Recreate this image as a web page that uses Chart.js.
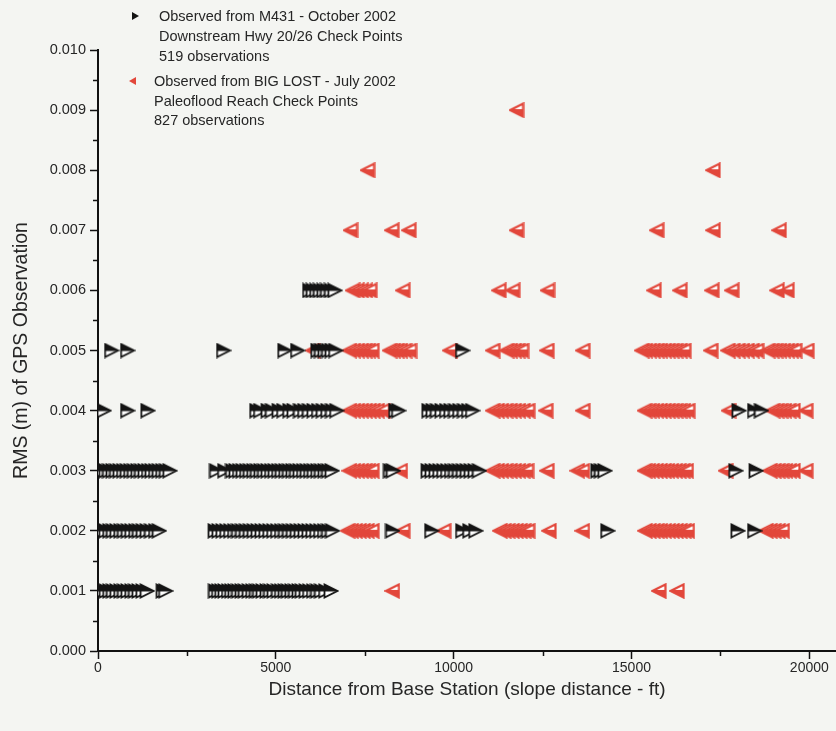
<!DOCTYPE html>
<html>
<head>
<meta charset="utf-8">
<script src="https://cdn.jsdelivr.net/npm/chart.js@4.4.1/dist/chart.umd.min.js"></script>
<style>
html,body{margin:0;padding:0;background:#f4f5f2;}
#wrap{position:relative;width:836px;height:731px;}
</style>
</head>
<body>
<div id="wrap"><canvas id="c" width="836" height="731"></canvas></div>
<script>
// ---------------- DATA ----------------
const xTitle = 'Distance from Base Station (slope distance - ft)';
const yTitle = 'RMS (m) of GPS Observation';
const legendM431 = ['Observed from M431 - October 2002', 'Downstream Hwy 20/26 Check Points', '519 observations'];
const legendBigLost = ['Observed from BIG LOST - July 2002', 'Paleoflood Reach Check Points', '827 observations'];
const rmsLevels = [0.001, 0.002, 0.003, 0.004, 0.005, 0.006, 0.007, 0.008, 0.009];
const xTickValues = [0, 2500, 5000, 7500, 10000, 12500, 15000, 17500, 20000];
const xTickLabels = ['0', '', '5000', '', '10000', '', '15000', '', '20000'];

// Observed from M431 (black) : distances (ft) per RMS level
const m431_rms001 = [30, 130, 230, 330, 430, 530, 640, 740, 840, 950, 1050, 1150, 1260, 1380, 1830, 1900,
  3300, 3390, 3480, 3570, 3670, 3760, 3850, 3950, 4050, 4140, 4250, 4350, 4450, 4540, 4640, 4750, 4850, 4950,
  5070, 5160, 5260, 5350, 5450, 5550, 5650, 5740, 5850, 5950, 6060, 6170, 6280, 6400, 6550];
const m431_rms002 = [20, 120, 220, 330, 430, 530, 640, 740, 850, 950, 1060, 1160, 1270, 1380, 1500, 1620, 1720,
  3290, 3400, 3510, 3620, 3730, 3840, 3950, 4060, 4170, 4280, 4390, 4500, 4610, 4720, 4830, 4940, 5050, 5160,
  5270, 5380, 5490, 5600, 5710, 5820, 5930, 6040, 6150, 6260, 6370, 6480, 6590,
  8280, 9380, 10250, 10450, 10620, 14330, 17990, 18460];
const m431_rms003 = [20, 120, 220, 320, 420, 520, 620, 720, 820, 920, 1020, 1120, 1220, 1320, 1420, 1520, 1620, 1720, 1820, 1920, 2020,
  3330, 3560, 3780, 3880, 3980, 4080, 4180, 4280, 4380, 4480, 4580, 4680, 4780, 4880, 4980, 5080, 5180, 5280,
  5380, 5480, 5580, 5680, 5780, 5880, 5980, 6080, 6180, 6280, 6380, 6480, 6580,
  8220, 8300, 9280, 9390, 9500, 9610, 9720, 9830, 9940, 10050, 10160, 10270, 10380, 10490, 10600, 10720,
  14050, 14150, 14250, 17930, 18500];
const m431_rms004 = [170, 830, 1400, 4460, 4570, 4780, 4900, 5090, 5220, 5390, 5510, 5690, 5810, 5940, 6070,
  6200, 6330, 6460, 6590, 6710, 8370, 8450, 9300, 9420, 9540, 9670, 9800, 9920, 10050, 10170, 10300, 10420,
  10530, 18020, 18460, 18650];
const m431_rms005 = [380, 830, 3530, 5250, 5610, 6180, 6280, 6380, 6480, 6580, 6680, 10250];
const m431_rms006 = [5950, 6050, 6150, 6250, 6350, 6450, 6560, 6660];

// Observed from BIG LOST (red) : distances (ft) per RMS level
const bigLost_rms001 = [8280, 15770, 16280];
const bigLost_rms002 = [7020, 7120, 7230, 7340, 7450, 7560, 7700, 8570, 9720, 11300, 11410, 11520, 11640, 11750,
  11860, 11970, 12080, 12680, 13620, 15380, 15490, 15600, 15710, 15810, 15920, 16030, 16140, 16250, 16360,
  16470, 16570, 18780, 18890, 19000, 19120, 19240];
const bigLost_rms003 = [7070, 7180, 7290, 7400, 7500, 7600, 7700, 8500, 11100, 11220, 11340, 11460, 11580, 11700,
  11820, 11940, 12050, 12620, 13480, 13620, 15370, 15470, 15580, 15690, 15800, 15910, 16010, 16120, 16230,
  16330, 16440, 16540, 17650, 18890, 19000, 19110, 19220, 19330, 19440, 19540, 19900];
const bigLost_rms004 = [7070, 7180, 7290, 7400, 7510, 7620, 7730, 7850, 8000, 11100, 11220, 11340, 11460, 11580,
  11700, 11820, 11950, 12080, 12590, 13630, 15370, 15480, 15590, 15700, 15800, 15910, 16020, 16130, 16240,
  16350, 16460, 16580, 17730, 18970, 19080, 19190, 19300, 19420, 19540, 19900];
const bigLost_rms005 = [6040, 7070, 7180, 7290, 7400, 7500, 7600, 7700, 8200, 8300, 8400, 8500, 8620, 8760, 9890,
  11100, 11490, 11590, 11700, 11800, 11910, 12620, 13630, 15290, 15390, 15500, 15600, 15710, 15810, 15920,
  16020, 16130, 16240, 16360, 16470, 17230, 17710, 17850, 17990, 18120, 18250, 18390, 18520, 18830, 18940,
  19050, 19160, 19270, 19380, 19490, 19590, 19930];
const bigLost_rms006 = [7160, 7280, 7400, 7520, 7640, 8570, 11270, 11660, 12640, 15630, 16360, 17260, 17820, 19090, 19370];
const bigLost_rms007 = [7100, 8260, 8740, 11770, 15710, 17290, 19150];
const bigLost_rms008 = [7580, 17290];
const bigLost_rms009 = [11770];

const m431Rows = [m431_rms001, m431_rms002, m431_rms003, m431_rms004, m431_rms005, m431_rms006];
const bigLostRows = [bigLost_rms001, bigLost_rms002, bigLost_rms003, bigLost_rms004, bigLost_rms005,
  bigLost_rms006, bigLost_rms007, bigLost_rms008, bigLost_rms009];

// ---------------- BUILD ----------------
function toPoints(rows) {
  const pts = [];
  rows.forEach((row, i) => row.forEach(d => pts.push({x: d, y: rmsLevels[i]})));
  return pts;
}

const BLACK = '#141414';
const RED = '#e2473b';

function makeMarker(dir, color) {
  const s = 16;
  const cv = document.createElement('canvas');
  cv.width = s; cv.height = s;
  const c = cv.getContext('2d');
  const m = 1.5;
  let pts;
  if (dir === 'right') pts = [[m, m], [s - m, s / 2], [m, s - m]];
  else pts = [[s - m, m], [m, s / 2], [s - m, s - m]];
  const path = () => { c.beginPath(); c.moveTo(pts[0][0], pts[0][1]); c.lineTo(pts[1][0], pts[1][1]); c.lineTo(pts[2][0], pts[2][1]); c.closePath(); };
  path(); c.fillStyle = '#ffffff'; c.fill();
  c.save(); path(); c.clip();
  c.fillStyle = color;
  if (dir === 'right') c.fillRect(0, 0, s, s / 2 + 0.5);
  else c.fillRect(0, s / 2 - 1, s, s / 2 + 1);
  c.restore();
  path(); c.strokeStyle = color; c.lineWidth = dir === 'right' ? 1.8 : 2.2; c.lineJoin = 'miter'; c.stroke();
  return cv;
}

const blackMarker = makeMarker('right', BLACK);
const redMarker = makeMarker('left', RED);

const FONT = '"Liberation Sans", Arial, Helvetica, sans-serif';
const TXT = '#262626';

const minorTicks = {
  id: 'minorTicks',
  afterDraw(chart) {
    const ctx = chart.ctx;
    const xs = chart.scales.x, ys = chart.scales.y;
    ctx.save();
    ctx.strokeStyle = '#111';
    ctx.lineWidth = 1.5;
    xs.ticks.forEach(t => {
      if (Math.round(t.value) % 5000 !== 0) {
        const px = Math.round(xs.getPixelForValue(t.value)) + 0.5;
        ctx.beginPath(); ctx.moveTo(px, xs.top); ctx.lineTo(px, xs.top + 5); ctx.stroke();
      }
    });
    ys.ticks.forEach(t => {
      if (Math.round(t.value * 10000) % 10 !== 0) {
        const py = Math.round(ys.getPixelForValue(t.value)) + 0.5;
        ctx.beginPath(); ctx.moveTo(ys.right, py); ctx.lineTo(ys.right - 5, py); ctx.stroke();
      }
    });
    ctx.restore();
  }
};

const legendPlugin = {
  id: 'textLegend',
  afterDraw(chart) {
    const ctx = chart.ctx;
    ctx.save();
    ctx.font = '14.5px ' + FONT;
    ctx.fillStyle = TXT;
    ctx.textBaseline = 'middle';
    ctx.textAlign = 'left';
    const y1 = [17, 37, 57];
    legendM431.forEach((t, i) => ctx.fillText(t, 159, y1[i]));
    const y2 = [82, 102, 121];
    legendBigLost.forEach((t, i) => ctx.fillText(t, 154, y2[i]));
    ctx.fillStyle = BLACK;
    ctx.beginPath(); ctx.moveTo(132, 12); ctx.lineTo(139, 16); ctx.lineTo(132, 20); ctx.closePath(); ctx.fill();
    ctx.fillStyle = RED;
    ctx.beginPath(); ctx.moveTo(136, 77); ctx.lineTo(129, 81); ctx.lineTo(136, 85); ctx.closePath(); ctx.fill();
    ctx.restore();
  }
};

new Chart(document.getElementById('c'), {
  type: 'scatter',
  data: {
    datasets: [
      {
        label: legendM431[0],
        data: toPoints(m431Rows),
        pointStyle: blackMarker,
        pointRadius: 7,
        pointHoverRadius: 7,
        borderColor: BLACK,
        backgroundColor: BLACK
      },
      {
        label: legendBigLost[0],
        data: toPoints(bigLostRows),
        pointStyle: redMarker,
        pointRadius: 7,
        pointHoverRadius: 7,
        borderColor: RED,
        backgroundColor: RED
      }
    ]
  },
  options: {
    responsive: false,
    animation: false,
    devicePixelRatio: 1,
    events: [],
    layout: { padding: { top: 50, right: 0, left: 0, bottom: 0 }, autoPadding: false },
    plugins: { legend: { display: false }, tooltip: { enabled: false } },
    scales: {
      x: {
        type: 'linear',
        min: 0,
        max: 20750,
        afterBuildTicks: (s) => { s.ticks = xTickValues.map(v => ({ value: v })); },
        afterFit: (s) => { s.height = 80; },
        ticks: {
          autoSkip: false,
          maxRotation: 0,
          padding: 1,
          color: TXT,
          font: { family: FONT, size: 14 },
          callback: (v, i) => xTickLabels[i]
        },
        grid: {
          drawOnChartArea: false,
          drawTicks: true,
          tickLength: 8,
          tickWidth: 1.5,
          tickColor: (ctx) => (ctx.tick && Math.round(ctx.tick.value) % 5000 === 0 ? '#111' : 'rgba(0,0,0,0)')
        },
        border: { display: true, color: '#111', width: 2 },
        title: {
          display: true,
          text: xTitle,
          color: TXT,
          font: { family: FONT, size: 19 },
          padding: { top: 0, bottom: 30 }
        }
      },
      y: {
        type: 'linear',
        min: 0,
        max: 0.010,
        afterFit: (s) => { s.width = 98; },
        ticks: {
          stepSize: 0.0005,
          autoSkip: false,
          padding: 4,
          color: TXT,
          font: { family: FONT, size: 14.5 },
          callback: (v) => { const k = Math.round(v * 10000); return k % 10 === 0 ? (k / 10000).toFixed(3) : ''; }
        },
        grid: {
          drawOnChartArea: false,
          drawTicks: true,
          tickLength: 8,
          tickWidth: 1.5,
          tickColor: (ctx) => (ctx.tick && Math.round(ctx.tick.value * 10000) % 10 === 0 ? '#111' : 'rgba(0,0,0,0)')
        },
        border: { display: true, color: '#111', width: 2 },
        title: {
          display: true,
          text: yTitle,
          color: TXT,
          font: { family: FONT, size: 19.5 },
          padding: { top: 10, bottom: 0 }
        }
      }
    }
  },
  plugins: [minorTicks, legendPlugin]
});
</script>
</body>
</html>
